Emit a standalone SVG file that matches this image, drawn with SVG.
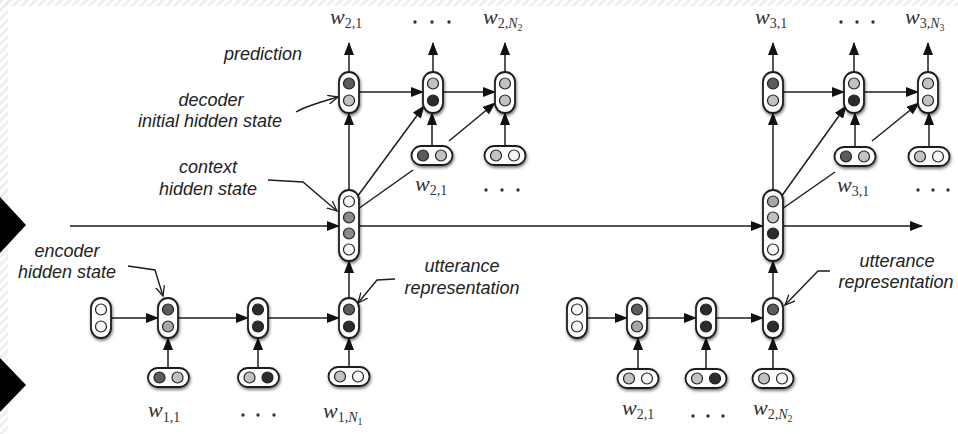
<svg xmlns="http://www.w3.org/2000/svg" width="958" height="434" viewBox="0 0 958 434">
  <defs>
    <style>
      .pill { fill: #ffffff; stroke: #1e1e1e; stroke-width: 1.8; filter: url(#sh); }
      .c { stroke: #222222; stroke-width: 1.2; }
      .w0 { fill: #f6f6f6; }
      .g1 { fill: #c2c2c2; }
      .g2 { fill: #a6a6a6; }
      .g3 { fill: #8a8a8a; }
      .g4 { fill: #5c5c5c; }
      .g5 { fill: #2c2c2c; }
      .edge { fill: none; stroke: #1e1e1e; stroke-width: 1.5; }
      .arr { marker-end: url(#ah); }
      .call { fill: none; stroke: #1e1e1e; stroke-width: 1.4; marker-end: url(#oh); }
      .lbl { font-family: "Liberation Sans", Arial, sans-serif; font-style: italic; font-size: 18px; fill: #222222; text-anchor: middle; }
      .m { font-family: "Liberation Serif", "Times New Roman", serif; font-style: italic; font-size: 22px; fill: #333333; }
      .s { font-style: normal; font-size: 14px; }
      .si { font-style: italic; font-size: 14px; }
      .ss { font-style: normal; font-size: 10px; }
      .dot { fill: #333333; }
    </style>
    <filter id="sh" x="-50%" y="-50%" width="200%" height="200%">
      <feDropShadow dx="0.8" dy="1.8" stdDeviation="1.6" flood-color="#000000" flood-opacity="0.55"/>
    </filter>
    <marker id="ah" markerUnits="userSpaceOnUse" markerWidth="13" markerHeight="10" refX="12" refY="5" orient="auto">
      <path d="M0,0 L13,5 L0,10 Z" fill="#111111"/>
    </marker>
    <marker id="oh" markerUnits="userSpaceOnUse" markerWidth="12" markerHeight="10" refX="10" refY="5" orient="auto">
      <path d="M0,0.5 L10,5 L0,9.5" fill="none" stroke="#1e1e1e" stroke-width="1.3"/>
    </marker>
    <pattern id="stripes" patternUnits="userSpaceOnUse" width="6" height="6" patternTransform="rotate(45)">
      <rect width="3" height="6" fill="#e4e4e4"/>
    </pattern>
  </defs>

  <rect width="958" height="434" fill="#ffffff"/>
  <!-- faint hatched frame along the top and left edges -->
  <rect x="0" y="0" width="958" height="6" fill="url(#stripes)" opacity="0.6"/>
  <rect x="0" y="0" width="8" height="434" fill="url(#stripes)" opacity="0.6"/>

  <!-- black side markers -->
  <path d="M0,197 L26,225 L0,253 Z" fill="#000000"/>
  <path d="M0,358 L26,385 L0,412 Z" fill="#000000"/>

  <!-- connectors -->
  <g id="connectors">
    <!-- first encoder -->
    <path class="edge arr" d="M111,318 H158"/>
    <path class="edge arr" d="M178,318 H248"/>
    <path class="edge arr" d="M268,318 H339"/>
    <path class="edge arr" d="M168,368 V338"/>
    <path class="edge arr" d="M258,368 V338"/>
    <path class="edge arr" d="M349,367 V338"/>
    <path class="edge arr" d="M349,298 V261"/>
    <!-- context chain -->
    <path class="edge arr" d="M70,226 H339"/>
    <path class="edge arr" d="M359,226 H763"/>
    <path class="edge arr" d="M783,226 H922"/>
    <!-- first decoder -->
    <path class="edge arr" d="M349,190 V113"/>
    <path class="edge arr" d="M349,72 V43"/>
    <path class="edge arr" d="M433,72 V43"/>
    <path class="edge arr" d="M505,72 V43"/>
    <path class="edge arr" d="M359,92 H423"/>
    <path class="edge arr" d="M443,92 H495"/>
    <path class="edge arr" d="M432,146 V113"/>
    <path class="edge arr" d="M505,146 V113"/>
    <path class="edge arr" d="M357,197 L424,106"/>
    <path class="edge" d="M358,209 L413,170"/>
    <path class="edge arr" d="M449,141 L495,103"/>
    <!-- second encoder -->
    <path class="edge arr" d="M587,318 H627"/>
    <path class="edge arr" d="M647,318 H696"/>
    <path class="edge arr" d="M716,318 H763"/>
    <path class="edge arr" d="M638,369 V338"/>
    <path class="edge arr" d="M706,369 V338"/>
    <path class="edge arr" d="M773,369 V338"/>
    <path class="edge arr" d="M773,298 V261"/>
    <!-- second decoder -->
    <path class="edge arr" d="M773,190 V113"/>
    <path class="edge arr" d="M773,72 V43"/>
    <path class="edge arr" d="M854,72 V43"/>
    <path class="edge arr" d="M928,72 V43"/>
    <path class="edge arr" d="M783,92 H844"/>
    <path class="edge arr" d="M864,92 H918"/>
    <path class="edge arr" d="M855,147 V113"/>
    <path class="edge arr" d="M929,147 V113"/>
    <path class="edge arr" d="M781,197 L846,106"/>
    <path class="edge" d="M782,209 L835,172"/>
    <path class="edge arr" d="M872,141 L919,103"/>
    <!-- callout pointers -->
    <path class="call" d="M296,112 Q306,106 338,97"/>
    <path class="call" d="M268,180 L303,182 L337,211"/>
    <path class="call" d="M128,266 L155,270 L163,296"/>
    <path class="call" d="M395,279 L377,280 L358,303"/>
    <path class="call" d="M830,271 L818,271 L785,305"/>
  </g>

  <!-- first encoder nodes -->
  <g id="enc1_init"><rect class="pill" x="91" y="298" width="20" height="40" rx="10"/><circle class="c w0" cx="101" cy="309.5" r="5.5"/><circle class="c w0" cx="101" cy="326.5" r="5.5"/></g>
  <g id="enc1_h1"><rect class="pill" x="158" y="298" width="20" height="40" rx="10"/><circle class="c g4" cx="168" cy="309.5" r="5.5"/><circle class="c g2" cx="168" cy="326.5" r="5.5"/></g>
  <g id="enc1_h2"><rect class="pill" x="248" y="298" width="20" height="40" rx="10"/><circle class="c g5" cx="258" cy="309.5" r="5.5"/><circle class="c g5" cx="258" cy="326.5" r="5.5"/></g>
  <g id="enc1_h3"><rect class="pill" x="339" y="298" width="20" height="40" rx="10"/><circle class="c g4" cx="349" cy="309.5" r="5.5"/><circle class="c g5" cx="349" cy="326.5" r="5.5"/></g>
  <g id="enc1_x1"><rect class="pill" x="148" y="368" width="41" height="19" rx="9.5"/><circle class="c g4" cx="159.5" cy="377.5" r="5.5"/><circle class="c g1" cx="177.5" cy="377.5" r="5.5"/></g>
  <g id="enc1_x2"><rect class="pill" x="238" y="368" width="41" height="19" rx="9.5"/><circle class="c g1" cx="249.5" cy="377.5" r="5.5"/><circle class="c g5" cx="267.5" cy="377.5" r="5.5"/></g>
  <g id="enc1_x3"><rect class="pill" x="328.5" y="367" width="41" height="19" rx="9.5"/><circle class="c g1" cx="340" cy="376.5" r="5.5"/><circle class="c w0" cx="358" cy="376.5" r="5.5"/></g>

  <!-- context nodes -->
  <g id="ctx1"><rect class="pill" x="339" y="190" width="20" height="71" rx="10"/><circle class="c w0" cx="349" cy="201.5" r="5.5"/><circle class="c g3" cx="349" cy="217.5" r="5.5"/><circle class="c g3" cx="349" cy="233.5" r="5.5"/><circle class="c w0" cx="349" cy="249.5" r="5.5"/></g>
  <g id="ctx2"><rect class="pill" x="763" y="190" width="20" height="71" rx="10"/><circle class="c g2" cx="773" cy="201.5" r="5.5"/><circle class="c g1" cx="773" cy="217.5" r="5.5"/><circle class="c g5" cx="773" cy="233.5" r="5.5"/><circle class="c w0" cx="773" cy="249.5" r="5.5"/></g>

  <!-- first decoder nodes -->
  <g id="dec1_h1"><rect class="pill" x="339" y="72" width="20" height="41" rx="10"/><circle class="c g4" cx="349" cy="83.5" r="5.5"/><circle class="c g1" cx="349" cy="100.5" r="5.5"/></g>
  <g id="dec1_h2"><rect class="pill" x="423" y="72" width="20" height="41" rx="10"/><circle class="c g1" cx="433" cy="83.5" r="5.5"/><circle class="c g5" cx="433" cy="100.5" r="5.5"/></g>
  <g id="dec1_h3"><rect class="pill" x="495" y="72" width="20" height="41" rx="10"/><circle class="c g1" cx="505" cy="83.5" r="5.5"/><circle class="c g1" cx="505" cy="100.5" r="5.5"/></g>
  <g id="dec1_x2"><rect class="pill" x="411.5" y="146" width="41" height="19" rx="9.5"/><circle class="c g4" cx="423" cy="155.5" r="5.5"/><circle class="c g1" cx="441" cy="155.5" r="5.5"/></g>
  <g id="dec1_x3"><rect class="pill" x="484.5" y="146" width="41" height="19" rx="9.5"/><circle class="c g1" cx="496" cy="155.5" r="5.5"/><circle class="c w0" cx="514" cy="155.5" r="5.5"/></g>

  <!-- second encoder nodes -->
  <g id="enc2_init"><rect class="pill" x="567" y="298" width="20" height="40" rx="10"/><circle class="c w0" cx="577" cy="309.5" r="5.5"/><circle class="c w0" cx="577" cy="326.5" r="5.5"/></g>
  <g id="enc2_h1"><rect class="pill" x="627" y="298" width="20" height="40" rx="10"/><circle class="c g4" cx="637" cy="309.5" r="5.5"/><circle class="c g2" cx="637" cy="326.5" r="5.5"/></g>
  <g id="enc2_h2"><rect class="pill" x="696" y="298" width="20" height="40" rx="10"/><circle class="c g5" cx="706" cy="309.5" r="5.5"/><circle class="c g5" cx="706" cy="326.5" r="5.5"/></g>
  <g id="enc2_h3"><rect class="pill" x="763" y="298" width="20" height="40" rx="10"/><circle class="c g4" cx="773" cy="309.5" r="5.5"/><circle class="c g5" cx="773" cy="326.5" r="5.5"/></g>
  <g id="enc2_x1"><rect class="pill" x="617.5" y="369" width="41" height="19" rx="9.5"/><circle class="c g1" cx="629" cy="378.5" r="5.5"/><circle class="c w0" cx="647" cy="378.5" r="5.5"/></g>
  <g id="enc2_x2"><rect class="pill" x="685.5" y="369" width="41" height="19" rx="9.5"/><circle class="c g1" cx="697" cy="378.5" r="5.5"/><circle class="c g5" cx="715" cy="378.5" r="5.5"/></g>
  <g id="enc2_x3"><rect class="pill" x="752.5" y="369" width="41" height="19" rx="9.5"/><circle class="c g1" cx="764" cy="378.5" r="5.5"/><circle class="c w0" cx="782" cy="378.5" r="5.5"/></g>

  <!-- second decoder nodes -->
  <g id="dec2_h1"><rect class="pill" x="763" y="72" width="20" height="41" rx="10"/><circle class="c g4" cx="773" cy="83.5" r="5.5"/><circle class="c g1" cx="773" cy="100.5" r="5.5"/></g>
  <g id="dec2_h2"><rect class="pill" x="844" y="72" width="20" height="41" rx="10"/><circle class="c g1" cx="854" cy="83.5" r="5.5"/><circle class="c g5" cx="854" cy="100.5" r="5.5"/></g>
  <g id="dec2_h3"><rect class="pill" x="918" y="72" width="20" height="41" rx="10"/><circle class="c g1" cx="928" cy="83.5" r="5.5"/><circle class="c g1" cx="928" cy="100.5" r="5.5"/></g>
  <g id="dec2_x2"><rect class="pill" x="834.5" y="147" width="41" height="19" rx="9.5"/><circle class="c g4" cx="846" cy="156.5" r="5.5"/><circle class="c g1" cx="864" cy="156.5" r="5.5"/></g>
  <g id="dec2_x3"><rect class="pill" x="908.5" y="147" width="41" height="19" rx="9.5"/><circle class="c g1" cx="920" cy="156.5" r="5.5"/><circle class="c w0" cx="938" cy="156.5" r="5.5"/></g>

  <!-- descriptive labels -->
  <g id="labels">
    <text class="lbl" x="263" y="60">prediction</text>
    <text class="lbl" x="211" y="106">decoder</text>
    <text class="lbl" x="210" y="127">initial hidden state</text>
    <text class="lbl" x="208" y="173">context</text>
    <text class="lbl" x="208" y="195">hidden state</text>
    <text class="lbl" x="67" y="257">encoder</text>
    <text class="lbl" x="67" y="278">hidden state</text>
    <text class="lbl" x="462" y="272">utterance</text>
    <text class="lbl" x="462" y="294">representation</text>
    <text class="lbl" x="897" y="267">utterance</text>
    <text class="lbl" x="896" y="288">representation</text>
  </g>

  <!-- word symbols -->
  <g id="words">
    <text class="m" x="330" y="24">w<tspan class="s" dy="4">2,1</tspan></text>
    <text class="m" x="483" y="24">w<tspan class="s" dy="4">2,</tspan><tspan class="si">N</tspan><tspan class="ss" dy="3">2</tspan></text>
    <text class="m" x="755" y="24">w<tspan class="s" dy="4">3,1</tspan></text>
    <text class="m" x="905" y="24">w<tspan class="s" dy="4">3,</tspan><tspan class="si">N</tspan><tspan class="ss" dy="3">3</tspan></text>
    <text class="m" x="415" y="191">w<tspan class="s" dy="4">2,1</tspan></text>
    <text class="m" x="837" y="192">w<tspan class="s" dy="4">3,1</tspan></text>
    <text class="m" x="148" y="417">w<tspan class="s" dy="5">1,1</tspan></text>
    <text class="m" x="323" y="418">w<tspan class="s" dy="4">1,</tspan><tspan class="si">N</tspan><tspan class="ss" dy="3">1</tspan></text>
    <text class="m" x="622" y="415">w<tspan class="s" dy="4">2,1</tspan></text>
    <text class="m" x="753" y="415">w<tspan class="s" dy="4">2,</tspan><tspan class="si">N</tspan><tspan class="ss" dy="3">2</tspan></text>
    <!-- ellipses -->
    <circle class="dot" cx="415" cy="22" r="1.7"/><circle class="dot" cx="432" cy="22" r="1.7"/><circle class="dot" cx="449" cy="22" r="1.7"/>
    <circle class="dot" cx="841" cy="22" r="1.7"/><circle class="dot" cx="857" cy="22" r="1.7"/><circle class="dot" cx="873" cy="22" r="1.7"/>
    <circle class="dot" cx="486" cy="190" r="1.7"/><circle class="dot" cx="502" cy="190" r="1.7"/><circle class="dot" cx="518" cy="190" r="1.7"/>
    <circle class="dot" cx="918" cy="190" r="1.7"/><circle class="dot" cx="933" cy="190" r="1.7"/><circle class="dot" cx="948" cy="190" r="1.7"/>
    <circle class="dot" cx="243" cy="415" r="1.7"/><circle class="dot" cx="258" cy="415" r="1.7"/><circle class="dot" cx="274" cy="415" r="1.7"/>
    <circle class="dot" cx="693" cy="416" r="1.7"/><circle class="dot" cx="708" cy="416" r="1.7"/><circle class="dot" cx="723" cy="416" r="1.7"/>
  </g>
</svg>
